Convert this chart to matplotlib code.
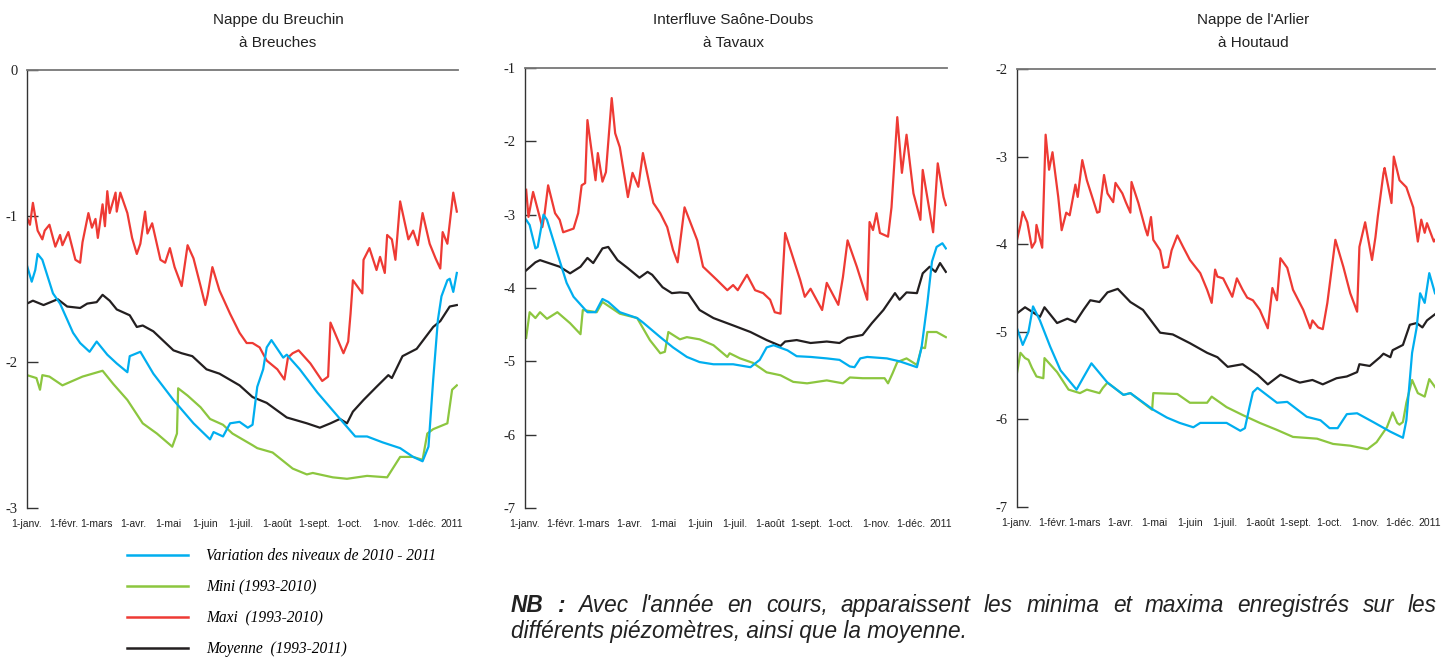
import matplotlib
matplotlib.use('Agg')
import matplotlib.pyplot as plt
from matplotlib.lines import Line2D

W, H = 1447, 658
SANS = 'Liberation Sans'
SERIF = 'Liberation Serif'

BLUE = '#00aeef'
GREEN = '#8cc63f'
RED = '#ee3a34'
BLACK = '#231f20'

month_days = [0, 31, 59, 90, 120, 151, 181, 212, 243, 273, 304, 334]
month_labels = ['1-janv.', '1-févr.', '1-mars', '1-avr.', '1-mai', '1-juin',
                '1-juil.', '1-août', '1-sept.', '1-oct.', '1-nov.', '1-déc.']

# (jour de l'année, niveau en m)
breuchin_var = [(0,-1.34),(4,-1.45),(7,-1.37),(9,-1.26),(13,-1.30),(22,-1.53),(28,-1.60),(39,-1.80),
                (45,-1.87),(53,-1.93),(59,-1.86),(68,-1.95),(76,-2.01),(85,-2.07),(87,-1.96),(96,-1.93),
                (107,-2.08),(124,-2.26),(141,-2.42),(155,-2.53),(158,-2.48),(166,-2.51),(172,-2.42),
                (180,-2.41),(187,-2.45),(191,-2.43),(195,-2.17),(200,-2.05),(203,-1.90),(207,-1.85),
                (212,-1.91),(217,-1.97),(220,-1.95),(231,-2.05),(246,-2.21),(263,-2.37),(278,-2.51),
                (288,-2.51),(301,-2.55),(316,-2.59),(327,-2.65),(335,-2.68),(340,-2.58),(344,-2.12),
                (348,-1.71),(351,-1.55),(356,-1.44),(358,-1.43),(361,-1.52),(364,-1.39)]
breuchin_mini = [(0,-2.09),(8,-2.11),(11,-2.19),(13,-2.09),(19,-2.10),(30,-2.16),(47,-2.10),(64,-2.06),
                 (73,-2.15),(85,-2.26),(98,-2.42),(110,-2.49),(123,-2.58),(127,-2.49),(128,-2.18),
                 (136,-2.23),(147,-2.31),(155,-2.39),(166,-2.43),(174,-2.49),(191,-2.57),(195,-2.59),
                 (208,-2.62),(225,-2.73),(237,-2.77),(242,-2.76),(259,-2.79),(271,-2.80),(288,-2.78),
                 (305,-2.79),(316,-2.65),(327,-2.65),(335,-2.67),(339,-2.49),(344,-2.46),(356,-2.42),
                 (360,-2.19),(364,-2.16)]
breuchin_maxi = [(0,-1.01),(2.5,-1.06),(5,-0.91),(9,-1.10),(13,-1.16),(15,-1.10),(19,-1.06),(24,-1.21),
                 (28,-1.13),(30,-1.20),(35,-1.11),(41,-1.30),(45,-1.32),(47,-1.18),(52,-0.98),(55,-1.08),
                 (58,-1.02),(60,-1.15),(64,-0.92),(66,-1.07),(68,-0.83),(70,-0.98),(75,-0.84),(76,-0.97),
                 (79,-0.84),(85,-0.98),(89,-1.15),(93,-1.26),(96,-1.19),(100,-0.97),(102,-1.12),
                 (106,-1.05),(113,-1.30),(117,-1.32),(121,-1.22),(125,-1.35),(131,-1.48),(136,-1.20),
                 (141,-1.29),(147,-1.48),(151,-1.61),(153,-1.54),(157,-1.35),(163,-1.51),(172,-1.67),
                 (180,-1.80),(186,-1.87),(191,-1.87),(197,-1.90),(203,-1.99),(212,-2.05),(218,-2.12),
                 (221,-1.97),(225,-1.94),(230,-1.92),(240,-2.01),(250,-2.13),(255,-2.10),(257,-1.73),
                 (268,-1.94),(272,-1.86),(274,-1.67),(276,-1.44),(284,-1.53),(285,-1.30),(290,-1.22),
                 (296,-1.37),(299,-1.28),(303,-1.39),(305,-1.13),(309,-1.16),(312,-1.30),(316,-0.90),
                 (323,-1.16),(327,-1.10),(331,-1.20),(335,-0.98),(341,-1.19),(346,-1.29),(350,-1.36),
                 (352,-1.11),(356,-1.19),(358,-1.05),(361,-0.84),(364,-0.97)]
breuchin_moy = [(0,-1.60),(5,-1.58),(14,-1.61),(26,-1.57),(34,-1.62),(45,-1.63),(51,-1.60),(59,-1.59),
                (64,-1.54),(70,-1.58),(76,-1.64),(87,-1.68),(93,-1.76),(98,-1.75),(107,-1.79),
                (124,-1.92),(131,-1.94),(140,-1.96),(152,-2.05),(163,-2.08),(180,-2.16),(191,-2.24),
                (203,-2.28),(220,-2.38),(237,-2.42),(248,-2.45),(257,-2.42),(265,-2.39),(271,-2.42),
                (276,-2.34),(285,-2.26),(296,-2.17),(306,-2.09),(309,-2.11),(318,-1.96),(330,-1.91),
                (344,-1.76),(350,-1.72),(358,-1.62),(364,-1.61)]

tavaux_var = [(1,-3.07),(4,-3.14),(9,-3.46),(11,-3.44),(16,-3.00),(19,-3.07),(28,-3.53),(36,-3.93),
              (42,-4.12),(54,-4.33),(61,-4.33),(67,-4.15),(72,-4.19),(82,-4.33),(97,-4.41),(102,-4.47),
              (117,-4.67),(128,-4.81),(140,-4.94),(151,-5.01),(163,-5.04),(180,-5.04),(195,-5.08),
              (203,-4.98),(209,-4.81),(215,-4.78),(227,-4.85),(235,-4.93),(247,-4.94),(261,-4.96),
              (272,-4.98),(281,-5.07),(285,-5.08),(290,-4.96),(296,-4.94),(313,-4.96),(324,-5.00),
              (339,-5.08),(343,-4.81),(348,-4.21),(352,-3.64),(356,-3.44),(361,-3.39),(364,-3.46)]
tavaux_mini = [(1,-4.68),(4,-4.33),(9,-4.41),(13,-4.33),(19,-4.42),(28,-4.33),(39,-4.48),(48,-4.63),
               (50,-4.30),(62,-4.33),(67,-4.19),(82,-4.35),(97,-4.41),(108,-4.71),(117,-4.89),
               (121,-4.87),(124,-4.60),(134,-4.70),(140,-4.67),(151,-4.70),(163,-4.78),(175,-4.94),
               (177,-4.89),(186,-4.96),(197,-5.02),(209,-5.15),(221,-5.19),(232,-5.28),(244,-5.30),
               (261,-5.26),(275,-5.30),(281,-5.22),(292,-5.23),(311,-5.23),(314,-5.30),(318,-5.16),
               (322,-5.01),(330,-4.96),(339,-5.05),(343,-4.81),(346,-4.82),(348,-4.60),(356,-4.60),
               (364,-4.67)]
tavaux_maxi = [(1,-2.66),(3,-3.03),(7,-2.69),(15,-3.17),(17,-2.98),(20,-2.60),(26,-2.98),(30,-3.07),
               (33,-3.24),(42,-3.19),(46,-2.98),(49,-2.60),(52,-2.57),(54,-1.71),(61,-2.53),(63,-2.16),
               (67,-2.55),(70,-2.42),(75,-1.41),(78,-1.89),(82,-2.08),(89,-2.76),(93,-2.43),(98,-2.62),
               (102,-2.16),(111,-2.84),(117,-2.98),(123,-3.17),(128,-3.48),(132,-3.65),(138,-2.90),
               (149,-3.35),(154,-3.71),(166,-3.89),(175,-4.03),(180,-3.96),(184,-4.03),(192,-3.82),
               (199,-4.03),(206,-4.07),(212,-4.16),(216,-4.33),(221,-4.35),(225,-3.25),(238,-3.89),
               (242,-4.12),(247,-4.01),(257,-4.30),(261,-3.93),(271,-4.23),(275,-3.85),(279,-3.35),
               (287,-3.71),(296,-4.16),(298,-3.10),(301,-3.21),(304,-2.98),(307,-3.25),(314,-3.30),
               (317,-2.90),(322,-1.67),(326,-2.43),(330,-1.91),(336,-2.71),(342,-3.07),(344,-2.39),
               (353,-3.24),(357,-2.30),(362,-2.76),(364,-2.87)]
tavaux_moy = [(1,-3.76),(9,-3.65),(13,-3.62),(30,-3.71),(39,-3.80),(48,-3.71),(54,-3.59),(59,-3.66),
              (67,-3.46),(72,-3.44),(80,-3.62),(89,-3.73),(99,-3.86),(106,-3.78),(110,-3.82),
              (119,-3.99),(127,-4.07),(134,-4.06),(141,-4.07),(151,-4.30),(163,-4.41),(180,-4.51),
              (195,-4.60),(209,-4.71),(221,-4.79),(225,-4.73),(235,-4.71),(247,-4.75),(261,-4.73),
              (272,-4.75),(279,-4.68),(292,-4.64),(300,-4.48),(310,-4.30),(320,-4.07),(324,-4.16),
              (330,-4.06),(339,-4.07),(344,-3.80),(350,-3.71),(355,-3.78),(359,-3.66),(364,-3.78)]

houtaud_var = [(0,-4.96),(5,-5.15),(10,-5.00),(14,-4.71),(20,-4.87),(29,-5.17),(38,-5.44),(52,-5.66),
               (58,-5.52),(65,-5.36),(79,-5.58),(93,-5.72),(99,-5.70),(119,-5.89),(131,-5.98),
               (142,-6.04),(154,-6.09),(160,-6.04),(171,-6.04),(183,-6.04),(195,-6.13),(199,-6.10),
               (203,-5.86),(206,-5.69),(210,-5.64),(227,-5.81),(236,-5.80),(253,-5.97),(265,-6.01),
               (273,-6.10),(280,-6.10),(288,-5.94),(297,-5.93),(311,-6.03),(326,-6.14),(337,-6.21),
               (340,-6.01),(345,-5.24),(349,-4.95),(352,-4.56),(356,-4.67),(360,-4.33),(365,-4.56)]
houtaud_mini = [(0,-5.47),(3,-5.24),(7,-5.30),(10,-5.32),(13,-5.41),(17,-5.51),(23,-5.53),(24,-5.30),
                (35,-5.46),(45,-5.66),(55,-5.70),(61,-5.66),(72,-5.70),(75,-5.64),(79,-5.58),
                (93,-5.72),(99,-5.70),(118,-5.89),(119,-5.70),(140,-5.71),(151,-5.81),(166,-5.81),
                (170,-5.74),(183,-5.86),(197,-5.95),(212,-6.04),(227,-6.12),(241,-6.20),(262,-6.22),
                (276,-6.28),(291,-6.30),(306,-6.34),(314,-6.26),(323,-6.09),(328,-5.92),(332,-6.04),
                (334,-6.06),(337,-6.03),(340,-5.81),(345,-5.55),(350,-5.70),(356,-5.74),(360,-5.54),
                (365,-5.63)]
houtaud_maxi = [(0,-3.95),(3,-3.78),(5,-3.63),(9,-3.75),(13,-4.04),(16,-3.97),(17,-3.78),(22,-4.04),
                (25,-2.75),(28,-3.15),(31,-2.95),(36,-3.46),(39,-3.84),(43,-3.64),(46,-3.67),(51,-3.32),
                (53,-3.46),(57,-3.04),(61,-3.27),(70,-3.64),(72,-3.63),(76,-3.21),(79,-3.42),(84,-3.52),
                (86,-3.30),(92,-3.42),(95,-3.52),(99,-3.64),(100,-3.29),(106,-3.53),(112,-3.82),
                (114,-3.90),(117,-3.69),(119,-3.95),(125,-4.07),(128,-4.27),(132,-4.26),(135,-4.07),
                (140,-3.90),(145,-4.03),(151,-4.18),(160,-4.33),(166,-4.52),(170,-4.67),(173,-4.29),
                (175,-4.37),(180,-4.39),(188,-4.60),(192,-4.39),(197,-4.52),(201,-4.61),(206,-4.64),
                (212,-4.75),(219,-4.96),(223,-4.50),(227,-4.64),(230,-4.16),(236,-4.27),(241,-4.52),
                (250,-4.75),(256,-4.96),(258,-4.87),(263,-4.95),(267,-4.97),(271,-4.67),(278,-3.95),
                (285,-4.26),(291,-4.56),(297,-4.77),(299,-4.03),(304,-3.75),(310,-4.18),(313,-3.92),
                (315,-3.69),(320,-3.19),(321,-3.13),(327,-3.53),(329,-3.00),(334,-3.27),(340,-3.35),
                (346,-3.58),(350,-3.97),(353,-3.72),(356,-3.87),(358,-3.76),(364,-3.97),(365,-3.95)]
houtaud_moy = [(0,-4.79),(7,-4.72),(13,-4.77),(20,-4.83),(24,-4.72),(35,-4.90),(44,-4.85),(51,-4.89),
               (58,-4.75),(64,-4.64),(72,-4.66),(79,-4.55),(88,-4.51),(99,-4.66),(110,-4.75),
               (125,-5.01),(136,-5.03),(151,-5.13),(166,-5.24),(175,-5.29),(184,-5.40),(197,-5.37),
               (210,-5.49),(219,-5.60),(230,-5.49),(241,-5.55),(247,-5.58),(258,-5.55),(267,-5.60),
               (279,-5.53),(288,-5.51),(297,-5.46),(299,-5.37),(308,-5.39),(317,-5.29),(320,-5.25),
               (326,-5.29),(328,-5.21),(337,-5.15),(343,-4.92),(349,-4.90),(354,-4.95),(358,-4.87),
               (365,-4.80)]

panels = [
    dict(title=('Nappe du Breuchin', 'à Breuches'), ylim=(-3, 0),
         series=(breuchin_mini, breuchin_maxi, breuchin_moy, breuchin_var)),
    dict(title=('Interfluve Saône-Doubs', 'à Tavaux'), ylim=(-7, -1),
         series=(tavaux_mini, tavaux_maxi, tavaux_moy, tavaux_var)),
    dict(title=("Nappe de l'Arlier", 'à Houtaud'), ylim=(-7, -2),
         series=(houtaud_mini, houtaud_maxi, houtaud_moy, houtaud_var)),
]
colors = (GREEN, RED, BLACK, BLUE)

legend_labels = ['Variation des niveaux de 2010 - 2011', 'Mini (1993-2010)',
                 'Maxi  (1993-2010)', 'Moyenne  (1993-2011)']
legend_colors = [BLUE, GREEN, RED, BLACK]

# placement en pixels : (gauche, haut, droite, bas) et centre du titre
boxes = [(27, 70, 458, 508), (525, 68, 947, 508), (1017, 69, 1435, 507)]
title_x = [278, 733, 1253]

fig = plt.figure(figsize=(W / 100, H / 100), dpi=100)

for p, (l, t, r, b), tx in zip(panels, boxes, title_x):
    ax = fig.add_axes([l / W, 1 - b / H, (r - l) / W, (b - t) / H])
    for pts, c in zip(p['series'], colors):
        d, v = zip(*pts)
        ax.plot(d, v, color=c, lw=1.6, solid_joinstyle='round')
    ax.set_xlim(0, 365)
    ax.set_ylim(*p['ylim'])
    yt = list(range(p['ylim'][0], p['ylim'][1] + 1))
    ax.set_yticks(yt, [str(v) for v in yt], fontfamily=SERIF, fontsize=10.5, color='#222')
    ax.set_xticks(month_days, month_labels, fontfamily=SANS, fontsize=7.5, color='#222')
    ax.annotate('2011', xy=(334, 0), xycoords=ax.get_xaxis_transform(),
                xytext=(13.5, -8), textcoords='offset points', ha='left', va='top',
                fontfamily=SANS, fontsize=7.5, color='#222')
    ax.tick_params(axis='y', direction='in', length=8, width=1, color='#333', pad=7)
    ax.tick_params(axis='x', length=0, pad=8)
    for s in ('right', 'bottom'):
        ax.spines[s].set_visible(False)
    ax.spines['left'].set_color('#333')
    ax.spines['left'].set_linewidth(1.0)
    ax.spines['top'].set_color('#777')
    ax.spines['top'].set_linewidth(1.3)
    fig.text(tx / W, 1 - 20 / H, p['title'][0], ha='center', va='center',
             fontfamily=SANS, fontsize=11, color='#222')
    fig.text(tx / W, 1 - 43 / H, p['title'][1], ha='center', va='center',
             fontfamily=SANS, fontsize=11, color='#222')

handles = [Line2D([], [], color=c, lw=1.8) for c in legend_colors]
fig.legend(handles, legend_labels, loc='upper left',
           bbox_to_anchor=(127 / W, 1 - 548 / H), frameon=False,
           borderpad=0, borderaxespad=0, handlelength=3.9, handletextpad=1.2,
           labelspacing=0.97,
           prop=dict(family=SERIF, style='italic', size=11.2))

# note justifiée
line1 = [('NB', 'bold'), (':', 'bold')] + [
    (w, 'normal') for w in
    "Avec l'année en cours, apparaissent les minima et maxima enregistrés sur les".split()]
words = [fig.text(0, 1 - 612 / H, w, fontfamily=SANS, style='italic', weight=wt,
                  fontsize=16.3, color='#222', va='baseline') for w, wt in line1]
fig.canvas.draw()
rend = fig.canvas.get_renderer()
widths = [w.get_window_extent(rend).width for w in words]
x0, x1 = 511, 1437
gap = (x1 - x0 - sum(widths)) / (len(words) - 1)
x = x0
for w, wd in zip(words, widths):
    w.set_x(x / W)
    x += wd + gap
fig.text(x0 / W, 1 - 638 / H, 'différents piézomètres, ainsi que la moyenne.',
         fontfamily=SANS, style='italic', fontsize=16.3, color='#222', va='baseline')

fig.savefig('out.png', dpi=100)
